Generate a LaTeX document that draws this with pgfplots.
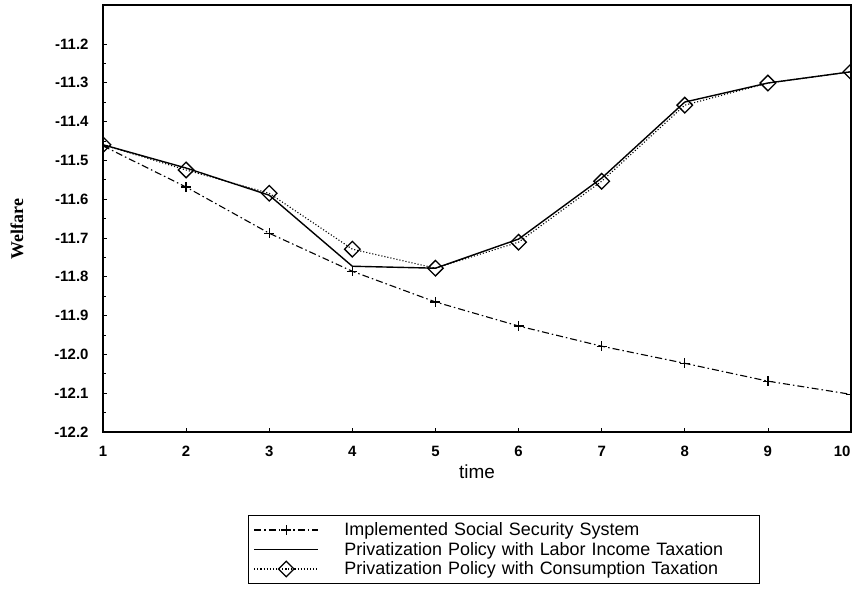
\documentclass[border=0pt]{standalone}
\usepackage{fontspec}
\setmainfont{Liberation Serif}
\setsansfont{Liberation Sans}
\usepackage{pgfplots}
\pgfplotsset{compat=1.18}

\begin{document}
\begin{tikzpicture}
\begin{axis}[
  scale only axis,
  width=748bp, height=427bp,
  xmin=1, xmax=10,
  ymin=-12.2, ymax=-11.1,
  xtick={1,...,10},
  xticklabels={1,2,3,4,5,6,7,8,9,{\makebox[0pt][r]{10}\hspace*{1bp}}},
  ytick={-12.2,-12.1,-12.0,-11.9,-11.8,-11.7,-11.6,-11.5,-11.4,-11.3,-11.2},
  minor y tick num=1,
  tick align=inside,
  major tick length=4bp,
  minor tick length=3bp,
  xtick pos=bottom, ytick pos=left,
  axis line style={line width=1.4bp},
  tick style={line width=0.6bp, black},
  /pgf/number format/assume math mode=true,
  yticklabel={\pgfmathprintnumber[fixed,fixed zerofill,precision=1]{\tick}},
  tick label style={font=\sffamily\bfseries\fontsize{15}{15}\selectfont},
  yticklabel style={xshift=-11bp},
  xticklabel style={yshift=-11bp},
  xlabel={time},
  ylabel={Welfare},
  xlabel style={font=\sffamily\fontsize{19}{19}\selectfont, at={(axis description cs:0.5,-0.092)}, anchor=center},
  ylabel style={font=\rmfamily\bfseries\fontsize{18}{18}\selectfont, at={(axis description cs:-0.115,0.475)}, anchor=center},
  clip marker paths=true,
  legend style={
    at={(axis description cs:0.194,-0.194)}, anchor=north west,
    draw=black, line width=0.9bp,
    font=\sffamily\fontsize{18}{19}\selectfont,
    row sep=2bp,
    inner xsep=5bp, inner ysep=6bp,
    nodes={inner sep=1.5bp},
    /tikz/column 2/.style={column sep=0bp, nodes={text width=408bp, align=left}},
    /tikz/every odd column/.append style={column sep=24bp},
  },
  legend cell align=left,
  legend image code/.code={
    \draw[mark repeat=2, mark phase=2] plot coordinates {(0bp,0bp) (32bp,0bp) (64bp,0bp)};
  },
]
% Implemented social security system
\addplot[black, line width=1.1bp, dash pattern=on 7bp off 3bp on 1.5bp off 3bp,
  mark=+, mark size=5bp, mark options={solid, line width=1.3bp}]
  coordinates {(1,-11.463)(2,-11.569)(3,-11.688)(4,-11.786)(5,-11.865)
               (6,-11.927)(7,-11.979)(8,-12.023)(9,-12.069)(10,-12.103)};
\addlegendentry{Implemented Social Security System}
% Privatization with labor income taxation
\addplot[black, line width=1.4bp, mark=none]
  coordinates {(1,-11.46)(2,-11.52)(3,-11.59)(4,-11.773)(5,-11.778)
               (6,-11.703)(7,-11.546)(8,-11.35)(9,-11.301)(10,-11.272)};
\addlegendentry{Privatization Policy with Labor Income Taxation}
% Privatization with consumption taxation
\addplot[black, line width=1.1bp, dotted,
  mark=square, mark size=5.5bp, mark options={solid, rotate=45, fill=white, line width=1.3bp}]
  coordinates {(1,-11.46)(2,-11.525)(3,-11.585)(4,-11.729)(5,-11.778)
               (6,-11.711)(7,-11.554)(8,-11.358)(9,-11.301)(10,-11.272)};
\addlegendentry{Privatization Policy with Consumption Taxation}
\coordinate (SW) at (rel axis cs:0,0);
\coordinate (NE) at (rel axis cs:1,1);
\end{axis}
\pgfresetboundingbox
\path[use as bounding box] ([shift={(-103bp,-165bp)}]SW) rectangle ([shift={(2bp,5bp)}]NE);
\end{tikzpicture}
\end{document}
